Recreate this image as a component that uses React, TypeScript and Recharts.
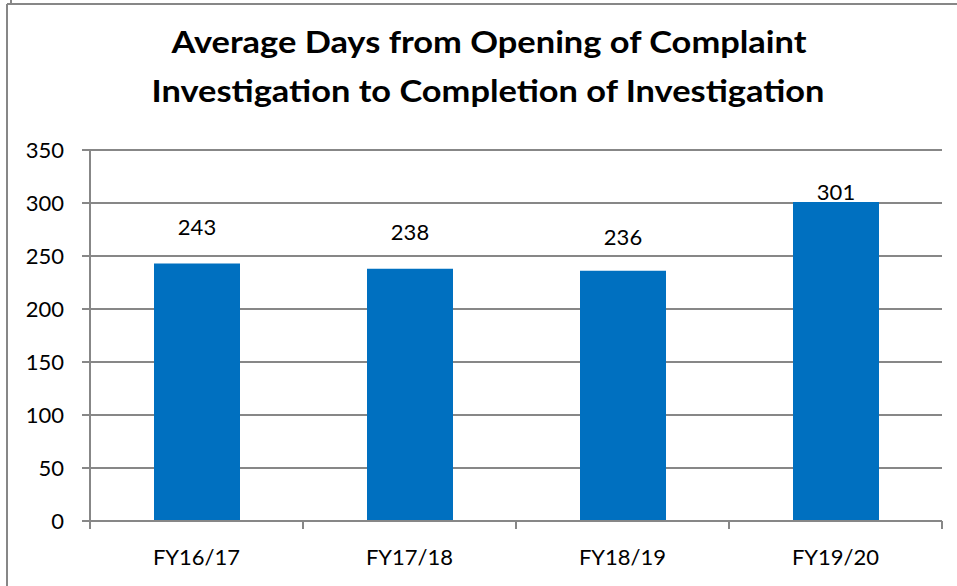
import React from "react";
import { BarChart, Bar, XAxis, YAxis, CartesianGrid, LabelList } from "recharts";

const categories = ["FY16/17", "FY17/18", "FY18/19", "FY19/20"];
const avgDays = [243, 238, 236, 301];
const yTicks = [0, 50, 100, 150, 200, 250, 300, 350];
const titleLines = [
  "Average Days from Opening of Complaint",
  "Investigation to Completion of Investigation",
];

const data = categories.map((c, i) => ({ name: c, value: avgDays[i] }));

const W = 957;
const H = 586;
const PLOT_LEFT = 90;
const PLOT_RIGHT = 942;
const PLOT_TOP = 150;
const PLOT_BOTTOM = 521;
const BAND = (PLOT_RIGHT - PLOT_LEFT) / categories.length;
const GRID = "#878787";
const FONT = "Lato, 'Open Sans', sans-serif";
// manual label lifts (as in the source chart) above bar tops
const LABEL_LIFT = [36, 37, 34, 10];

const XTick = (props: any) => {
  const { x, y, payload, index } = props;
  const left = x - BAND / 2;
  return (
    <g>
      <line x1={left} x2={left} y1={PLOT_BOTTOM} y2={PLOT_BOTTOM + 8} stroke={GRID} strokeWidth={2} />
      {index === categories.length - 1 && (
        <line x1={x + BAND / 2} x2={x + BAND / 2} y1={PLOT_BOTTOM} y2={PLOT_BOTTOM + 8} stroke={GRID} strokeWidth={2} />
      )}
      <text x={x} y={y + 36} textAnchor="middle" fontSize={22} fontFamily={FONT} fill="#000">
        {payload.value}
      </text>
    </g>
  );
};

const ValueLabel = (props: any) => {
  const { x, y, width, value, index } = props;
  return (
    <text
      x={x + width / 2}
      y={y - LABEL_LIFT[index] + 8}
      textAnchor="middle"
      fontSize={22}
      fontFamily={FONT}
      fill="#000"
    >
      {value}
    </text>
  );
};

export default function App() {
  return (
    <div style={{ position: "absolute", left: 0, top: 0, width: W, height: H, background: "#fff" }}>
      <svg width={W} height={H} style={{ position: "absolute", left: 0, top: 0 }}>
        <line x1={11} x2={11} y1={0} y2={4} stroke={GRID} strokeWidth={2} />
        <line x1={7} x2={W} y1={4} y2={4} stroke={GRID} strokeWidth={2} />
        <line x1={7} x2={7} y1={4} y2={H} stroke={GRID} strokeWidth={2} />
        <text x={489} y={53} textAnchor="middle" fontSize={31} fontWeight="bold" fontFamily={FONT} textLength={635} lengthAdjust="spacingAndGlyphs">
          {titleLines[0]}
        </text>
        <text x={488} y={102} textAnchor="middle" fontSize={31} fontWeight="bold" fontFamily={FONT} textLength={673} lengthAdjust="spacingAndGlyphs">
          {titleLines[1]}
        </text>
      </svg>
      <div style={{ position: "absolute", left: 0, top: 0 }}>
        <BarChart
          width={W}
          height={H}
          data={data}
          margin={{ top: PLOT_TOP, right: W - PLOT_RIGHT, bottom: 0, left: 0 }}
          barCategoryGap="20%"
        >
          <CartesianGrid vertical={false} stroke={GRID} strokeWidth={2} />
          <XAxis
            dataKey="name"
            height={H - PLOT_BOTTOM}
            axisLine={{ stroke: GRID, strokeWidth: 2 }}
            tickLine={false}
            tick={<XTick />}
            interval={0}
          />
          <YAxis
            width={PLOT_LEFT}
            domain={[0, 350]}
            ticks={yTicks}
            interval={0}
            axisLine={{ stroke: GRID, strokeWidth: 2 }}
            tickLine={{ stroke: GRID, strokeWidth: 2 }}
            tickSize={8}
            tickMargin={18}
            tick={{ fill: "#000", fontSize: 22, fontFamily: FONT }}
          />
          <Bar dataKey="value" fill="#0070C0" barSize={86} isAnimationActive={false}>
            <LabelList dataKey="value" content={<ValueLabel />} />
          </Bar>
        </BarChart>
      </div>
    </div>
  );
}
